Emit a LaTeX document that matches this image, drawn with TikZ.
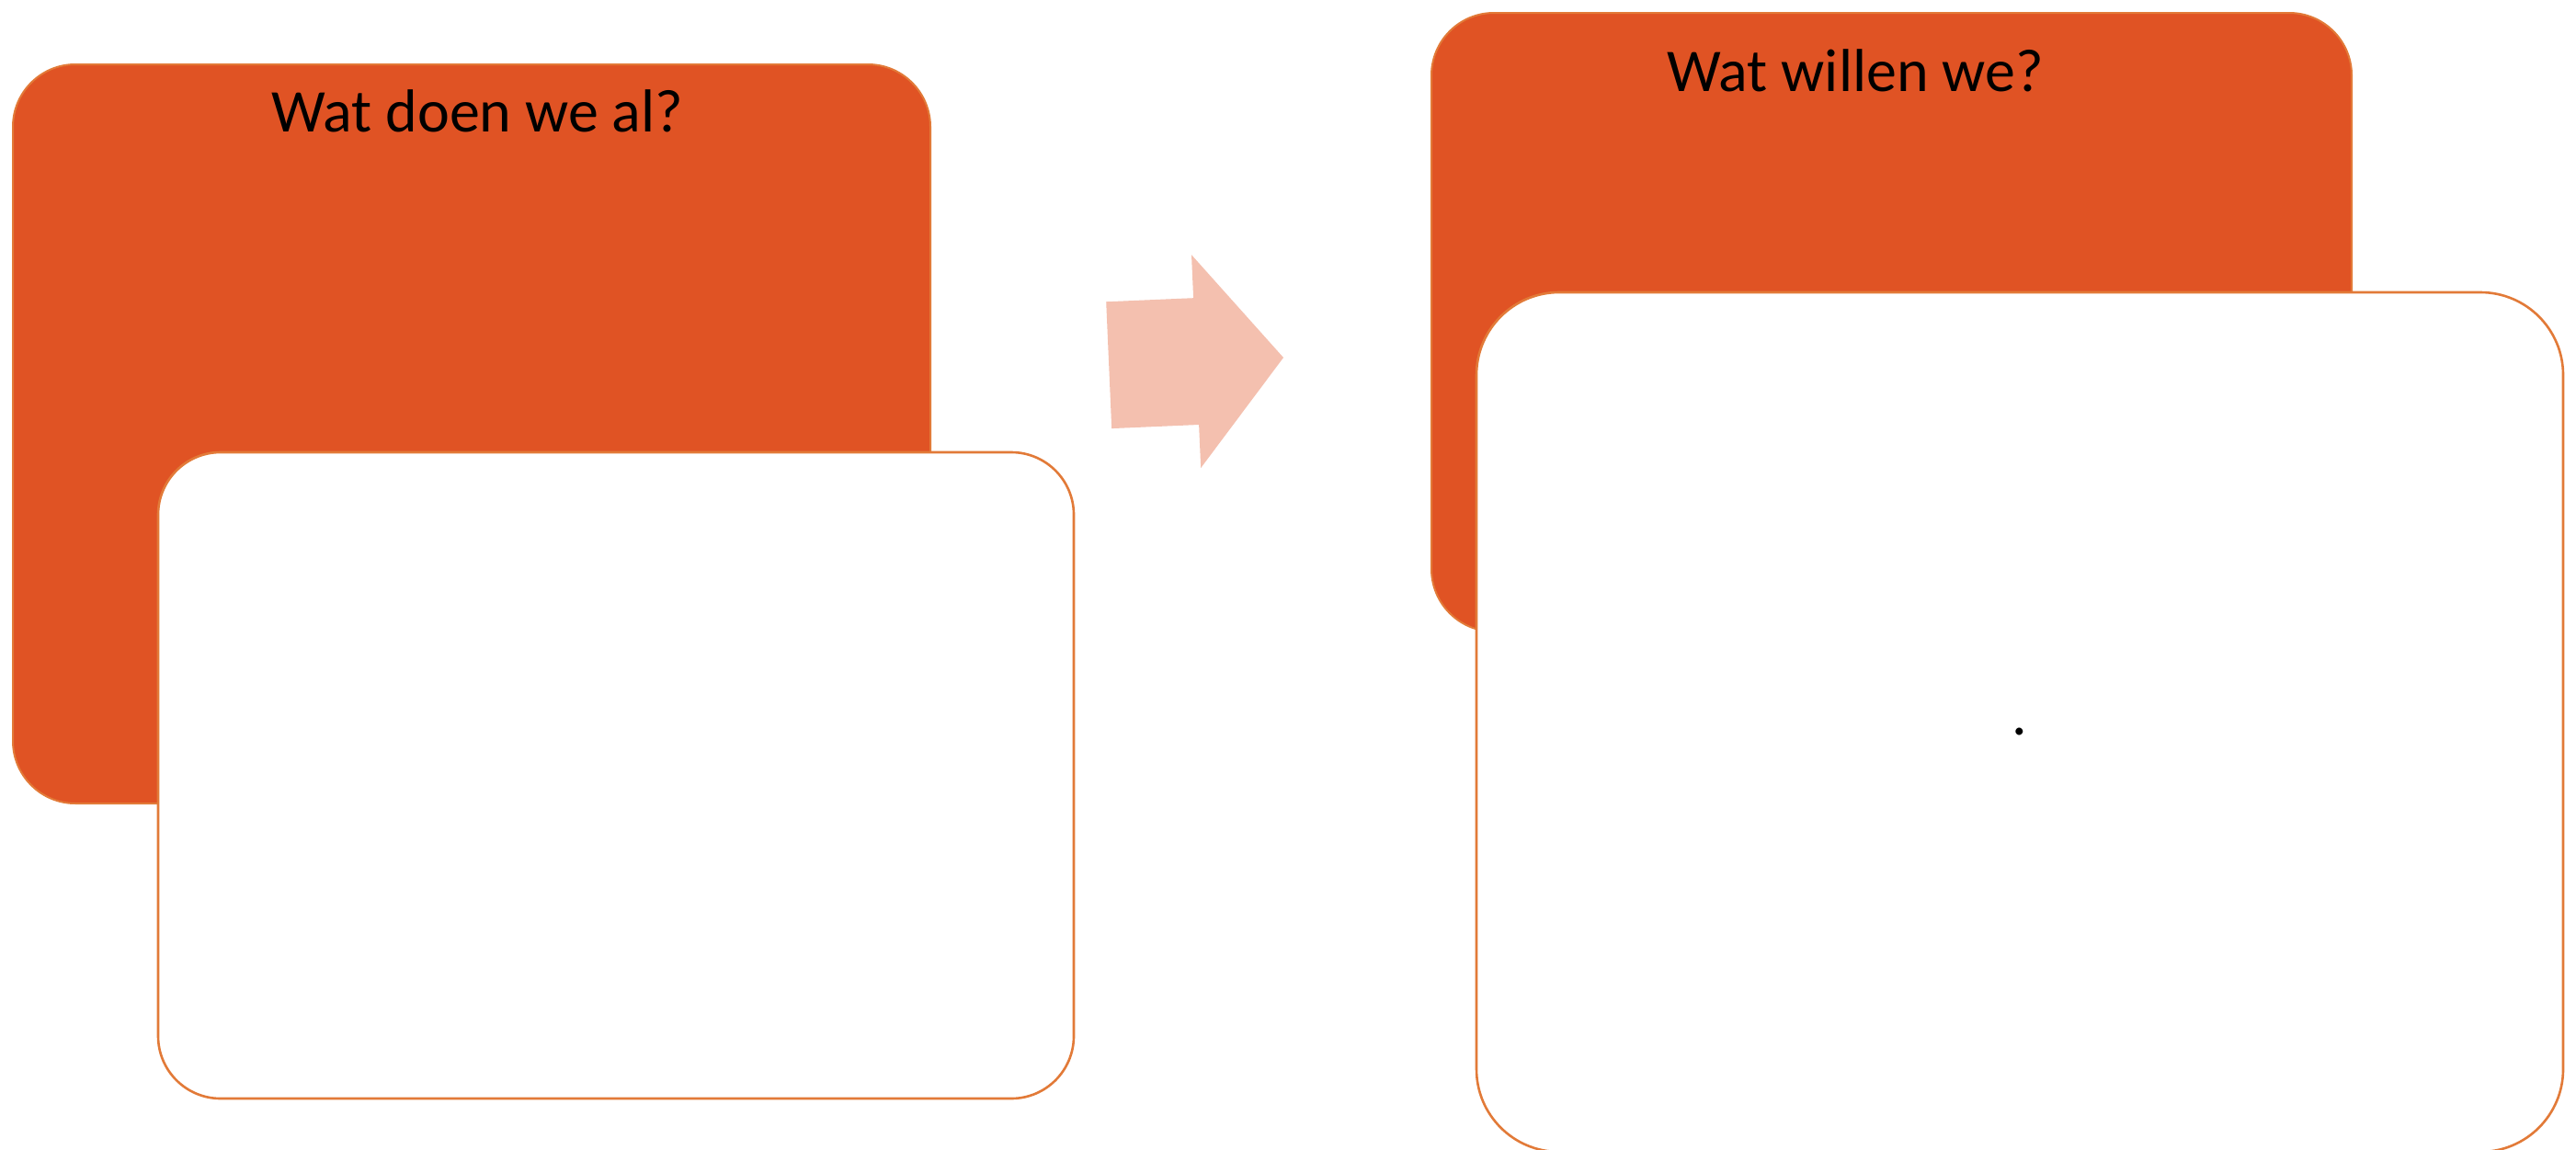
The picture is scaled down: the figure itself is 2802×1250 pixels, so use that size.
\documentclass[tikz,border=0pt]{standalone}
\usepackage{fontspec}
\setmainfont{Carlito}
\definecolor{blockorange}{RGB}{224,83,36}
\definecolor{blockedge}{RGB}{226,122,56}
\definecolor{arrowpink}{RGB}{244,192,175}
\tikzset{
  orangeblock/.style={draw=blockedge, line width=2pt, fill=blockorange, rounded corners=68pt, inner sep=0pt},
  whiteblock/.style={draw=blockedge, line width=2.6pt, fill=white, rounded corners=#1, inner sep=0pt},
  titletext/.style={inner sep=0pt, anchor=base west, font=\fontsize{66}{70}\selectfont, text=black},
}
\begin{document}
\begin{tikzpicture}[x=1pt,y=-1pt]
\useasboundingbox (0,0) rectangle (2802,1250);
\fill[white] (0,0) rectangle (2802,1250);
% left pair
\node[orangeblock, minimum width=998pt, minimum height=804pt] (lo) at (513,472) {};
\node[whiteblock=68pt, minimum width=996pt, minimum height=703pt] (lw) at (670,843.5) {};
\node[titletext] (lt) at (295,143) {Wat doen we al?};
% arrow
\fill[arrowpink] (1203.2,328.3) coordinate (a1) -- (1298.1,324.2) -- (1296.0,277.2) -- (1396,389) coordinate (tip) -- (1306.2,509.0) -- (1304.1,462.0) -- (1209.2,466.1) -- cycle;
% right pair
\node[orangeblock, minimum width=1001pt, minimum height=673pt] (ro) at (2057.5,350.5) {};
\node[whiteblock=90pt, minimum width=1182pt, minimum height=935pt] (rw) at (2197,785.5) {};
\node[titletext] (rt) at (1813,99) {Wat willen we?};
\node[inner sep=0pt, anchor=base, font=\fontsize{66}{70}\selectfont] (dot) at (2197,799) {.};
\end{tikzpicture}
\end{document}
